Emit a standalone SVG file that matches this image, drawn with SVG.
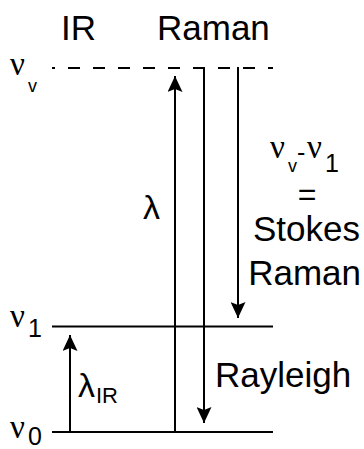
<svg xmlns="http://www.w3.org/2000/svg" width="364" height="449" viewBox="0 0 364 449">
<style>
.t{font-family:"Liberation Sans",Arial,sans-serif;fill:#000}
.big{font-size:35px}
.lam{font-size:34px}
.nu{font-family:"Liberation Serif","Times New Roman",serif;font-size:33px;fill:#000}
.sub{font-size:25px}
.subv{font-size:18px}
.ln{stroke:#000;stroke-width:2;fill:none}
.dash{stroke:#000;stroke-width:2;fill:none;stroke-dasharray:12 13;stroke-dashoffset:9}
</style>
<defs>
<marker id="ah" viewBox="0 0 16 15" refX="16" refY="7.5" markerWidth="16" markerHeight="15" markerUnits="userSpaceOnUse" orient="auto">
<path d="M0,0 L16,7.5 L0,15 L3,7.5 Z" fill="#000"/>
</marker>
</defs>
<g id="levels">
<line class="dash" x1="52" y1="68" x2="273" y2="68"/>
<line class="ln" x1="52" y1="326.5" x2="273" y2="326.5"/>
<line class="ln" x1="52" y1="432" x2="273" y2="432"/>
</g>
<g id="connectors">
<line class="ln" x1="175" y1="432" x2="175" y2="76" marker-end="url(#ah)"/>
<line class="ln" x1="204" y1="67" x2="204" y2="423" marker-end="url(#ah)"/>
<line class="ln" x1="238" y1="67" x2="238" y2="318" marker-end="url(#ah)"/>
<line class="ln" x1="70" y1="432" x2="70" y2="335" marker-end="url(#ah)"/>
</g>
<g id="header">
<text class="t big" x="61" y="40">IR</text>
<text class="t big" x="157" y="40">Raman</text>
</g>
<g id="level-labels">
<text class="nu" x="10" y="75">ν</text><text class="t subv" x="28" y="92">v</text>
<text class="nu" x="10" y="327">ν</text><text class="t sub" x="28" y="337">1</text>
<text class="nu" x="10" y="438">ν</text><text class="t sub" x="28" y="445">0</text>
</g>
<g id="lambda">
<text class="t lam" x="143" y="219">λ</text>
</g>
<g id="lambda-ir">
<text class="t lam" x="78" y="397">λ</text>
<text class="t" style="font-size:22px" x="96" y="403">IR</text>
</g>
<g id="stokes-label">
<text class="nu" x="270" y="158">ν</text><text class="t subv" x="288" y="172">v</text>
<text class="t sub" x="297" y="161">-</text>
<text class="nu" x="307" y="158">ν</text><text class="t sub" x="325" y="172">1</text>
<text class="t" style="font-size:32px" x="307" y="205" text-anchor="middle">=</text>
<text class="t big" x="360" y="241" text-anchor="end">Stokes</text>
<text class="t big" x="361" y="285" text-anchor="end">Raman</text>
</g>
<g id="rayleigh">
<text class="t big" x="215" y="387">Rayleigh</text>
</g>
</svg>
